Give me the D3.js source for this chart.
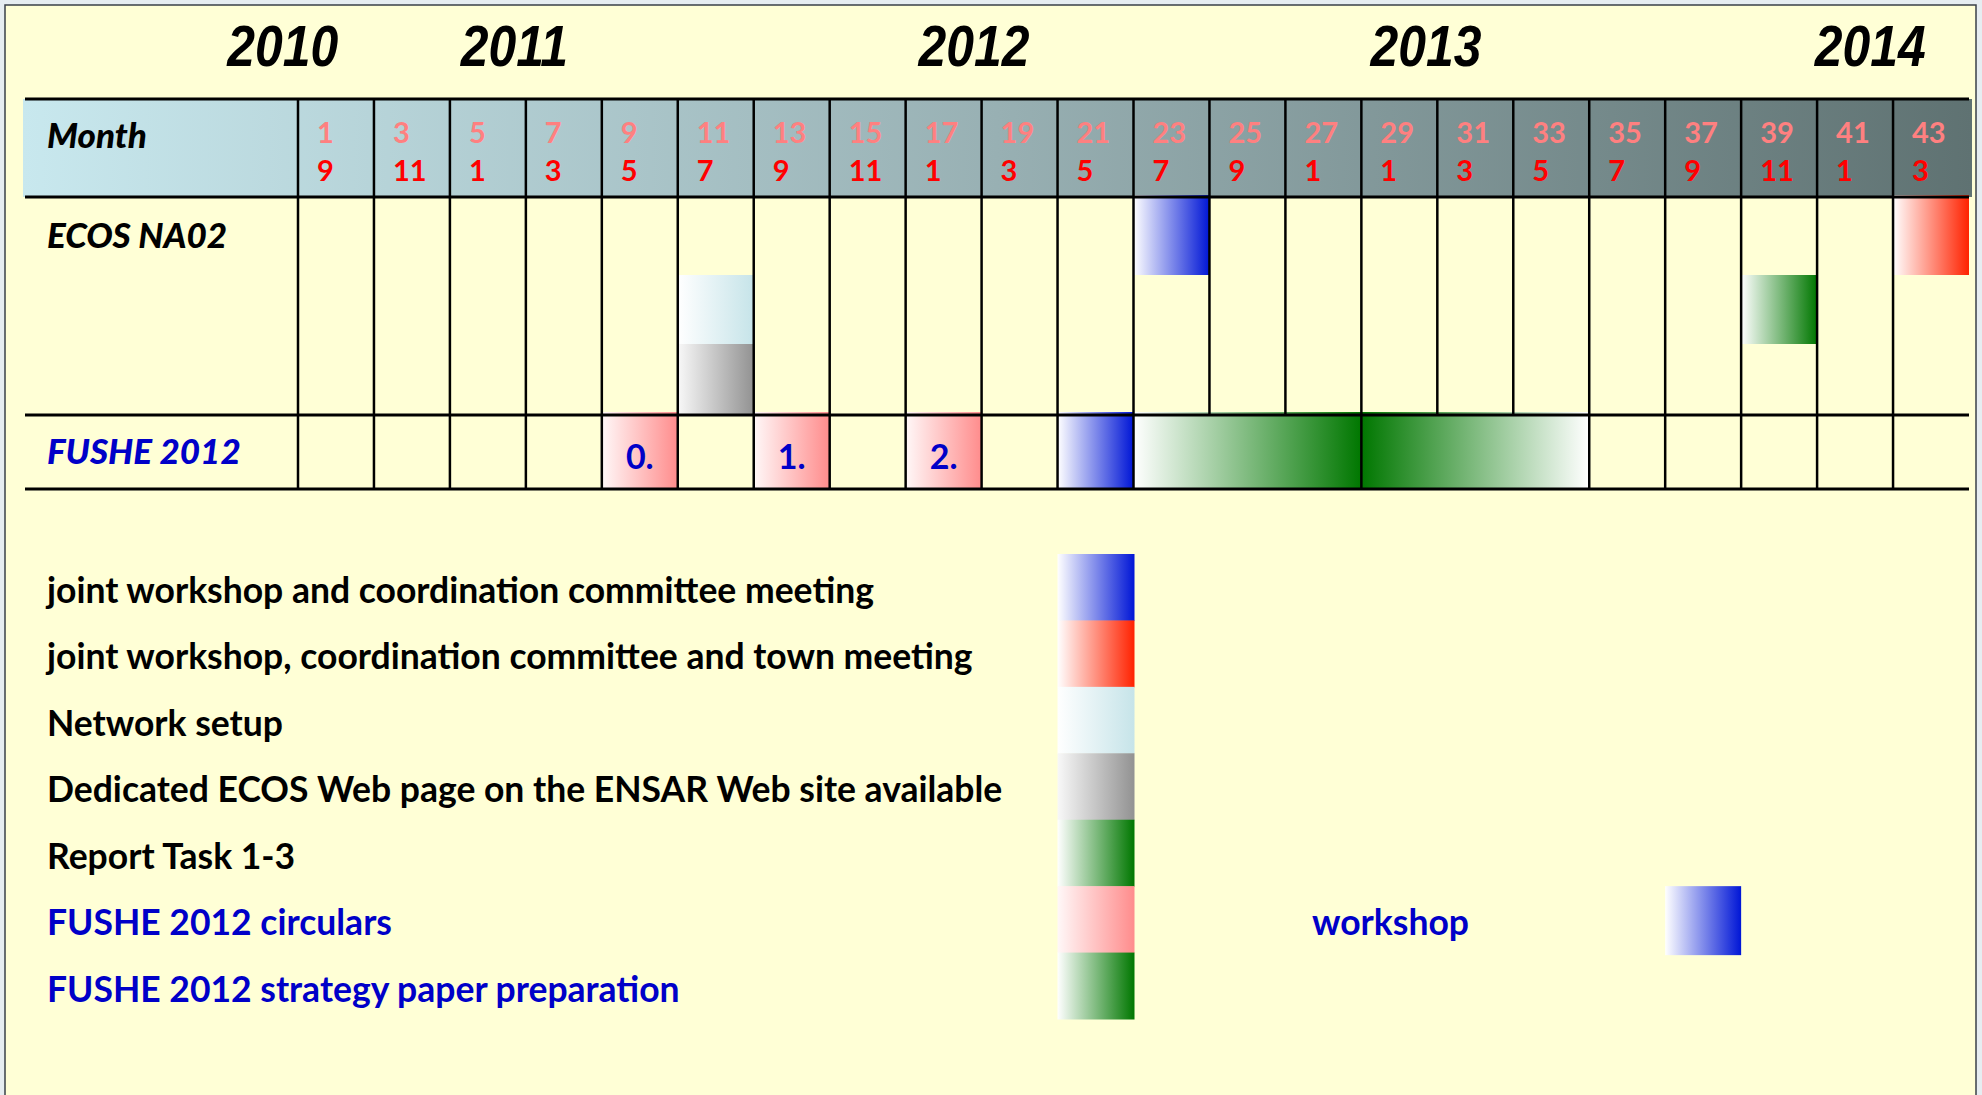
<html>

<head>
  <script src="https://d3js.org/d3.v7.min.js"></script>
  <style>
    body {
      margin: 0;
      background-color: #e6edf1;
    }

    svg {
      display: block;
    }

    text {
      font-family: Lato, "Open Sans", sans-serif;
      font-weight: bold;
    }
  </style>
</head>

<body>
  <div id="chart"></div>
</body>

<script>
  // header: project month (top row) and calendar month (bottom row)
  var projMonths = [1, 3, 5, 7, 9, 11, 13, 15, 17, 19, 21, 23, 25, 27, 29, 31, 33, 35, 37, 39, 41, 43];
  var calMonths = [9, 11, 1, 3, 5, 7, 9, 11, 1, 3, 5, 7, 9, 1, 1, 3, 5, 7, 9, 11, 1, 3];

  // year titles and where they sit on the project-month axis
  var years = ["2010", "2011", "2012", "2013", "2014"];
  var yearMonths = [-0.4, 5.7, 17.8, 29.7, 41.4];

  var rowNames = ["Month", "ECOS NA02", "FUSHE 2012"];

  // ECOS NA02 milestones: first/last project month, lane inside the row, kind
  var ecosBars = [
    { from: 11, to: 11, lane: 1, kind: "network" },
    { from: 11, to: 11, lane: 2, kind: "web" },
    { from: 23, to: 23, lane: 0, kind: "joint" },
    { from: 39, to: 39, lane: 1, kind: "report" },
    { from: 43, to: 43, lane: 0, kind: "town" }
  ];

  // FUSHE 2012 milestones
  var fusheBars = [
    { from: 9, to: 9, kind: "circular", label: "0." },
    { from: 13, to: 13, kind: "circular", label: "1." },
    { from: 17, to: 17, kind: "circular", label: "2." },
    { from: 21, to: 21, kind: "joint", label: "" },
    { from: 23, to: 27, kind: "strategy", label: "" },
    { from: 29, to: 33, kind: "strategyEnd", label: "" }
  ];

  var legendLabels = [
    "joint workshop and coordination committee meeting",
    "joint workshop, coordination committee and town meeting",
    "Network setup",
    "Dedicated ECOS Web page on the ENSAR Web site available",
    "Report Task 1-3",
    "FUSHE 2012 circulars",
    "FUSHE 2012 strategy paper preparation"
  ];
  var legendKinds = ["joint", "town", "network", "web", "report", "circular", "strategy"];
  var legendGroups = ["ECOS", "ECOS", "ECOS", "ECOS", "ECOS", "FUSHE", "FUSHE"];

  // gradient colours per kind (left -> right)
  var kindColors = {
    joint: ["#ffffff", "#0016d6"],
    town: ["#ffffff", "#ff2200"],
    network: ["#ffffff", "#c6e4e9"],
    web: ["#f8f8f8", "#929292"],
    report: ["#ffffff", "#007700"],
    circular: ["#fff8f8", "#ff8c8c"],
    strategy: ["#ffffff", "#007700"],
    strategyEnd: ["#007700", "#ffffff"]
  };

  var width = 1982, height = 1095;
  var blue = "#0000c8";

  var svg = d3.select("#chart").append("svg")
    .attr("width", width).attr("height", height);

  // panel
  svg.append("rect").attr("x", 5).attr("y", 5)
    .attr("width", 1971).attr("height", 1100)
    .style("fill", "#ffffd6").style("stroke", "#3a4048").style("stroke-width", 1.5);

  // x: project-month axis, each column holds two months
  var x = d3.scaleLinear().domain([0, 44]).range([298, 1969]);
  var colStart = function(m) { return x(m - 1); };
  var colEnd = function(m) { return x(m + 1); };

  var headTop = 99, headBottom = 197, ecosBottom = 415, fusheBottom = 489;
  // lanes inside the ECOS row (top lane a little taller)
  var lane = d3.scaleLinear().domain([0, 1, 2, 3]).range([headBottom, 275, 344, ecosBottom]);

  var defs = svg.append("defs");

  var headGrad = defs.append("linearGradient").attr("id", "headGrad")
    .attr("gradientUnits", "userSpaceOnUse")
    .attr("x1", 23).attr("x2", 1972).attr("y1", 0).attr("y2", 0);
  headGrad.append("stop").attr("offset", 0).attr("stop-color", "#c8e8ee");
  headGrad.append("stop").attr("offset", 0.5).attr("stop-color", "#98b0b3");
  headGrad.append("stop").attr("offset", 1).attr("stop-color", "#5f7272");

  Object.keys(kindColors).forEach(function(k) {
    var g = defs.append("linearGradient").attr("id", "g-" + k)
      .attr("x1", 0).attr("x2", 1).attr("y1", 0).attr("y2", 0);
    g.append("stop").attr("offset", 0).attr("stop-color", kindColors[k][0]);
    g.append("stop").attr("offset", 1).attr("stop-color", kindColors[k][1]);
  });

  // header band
  svg.append("rect").attr("x", 23).attr("y", headTop)
    .attr("width", 1972 - 23).attr("height", headBottom - headTop)
    .style("fill", "url(#headGrad)");

  // years
  svg.selectAll(".year").data(years).enter().append("text")
    .attr("class", "year")
    .attr("transform", function(d, i) { return "translate(" + x(yearMonths[i]) + ",66) scale(0.86,1)"; })
    .attr("text-anchor", "middle")
    .style("font-family", "'Liberation Sans', Arial, sans-serif")
    .style("font-style", "italic")
    .style("font-size", "58px")
    .style("fill", "black")
    .text(function(d) { return d; });

  // header numbers
  svg.selectAll(".proj").data(projMonths).enter().append("text")
    .attr("class", "proj")
    .attr("x", function(d) { return colStart(d) + 19; })
    .attr("y", 143)
    .style("font-size", "29px").style("fill", "#ff8080")
    .text(function(d) { return d; });

  svg.selectAll(".cal").data(calMonths).enter().append("text")
    .attr("class", "cal")
    .attr("x", function(d, i) { return colStart(projMonths[i]) + 19; })
    .attr("y", 181)
    .style("font-size", "29px").style("fill", "#ff0000")
    .text(function(d) { return d; });

  // row names
  svg.selectAll(".row").data(rowNames).enter().append("text")
    .attr("class", "row")
    .attr("x", 47)
    .attr("y", function(d, i) { return [148, 248, 464][i]; })
    .style("font-style", "italic")
    .style("font-size", "35px")
    .style("font-weight", 900)
    .style("fill", function(d, i) { return i == 2 ? blue : "black"; })
    .text(function(d) { return d; });

  // bars: ECOS row
  svg.selectAll(".ecos").data(ecosBars).enter().append("rect")
    .attr("class", "ecos")
    .attr("x", function(d) { return colStart(d.from); })
    .attr("y", function(d) { return lane(d.lane) - (d.lane == 0 ? 2 : 0); })
    .attr("width", function(d) { return colEnd(d.to) - colStart(d.from); })
    .attr("height", function(d) { return lane(d.lane + 1) - lane(d.lane) + (d.lane == 0 ? 2 : 0); })
    .style("fill", function(d) { return "url(#g-" + d.kind + ")"; });

  // bars: FUSHE row
  svg.selectAll(".fushe").data(fusheBars).enter().append("rect")
    .attr("class", "fushe")
    .attr("x", function(d) { return colStart(d.from); })
    .attr("y", ecosBottom - 3)
    .attr("width", function(d) { return colEnd(d.to) - colStart(d.from); })
    .attr("height", fusheBottom - ecosBottom + 3)
    .style("fill", function(d) { return "url(#g-" + d.kind + ")"; });

  svg.selectAll(".flabel").data(fusheBars).enter().append("text")
    .attr("class", "flabel")
    .attr("x", function(d) { return (colStart(d.from) + colEnd(d.to)) / 2; })
    .attr("y", 469)
    .attr("text-anchor", "middle")
    .style("font-size", "34px").style("fill", blue)
    .text(function(d) { return d.label; });

  // horizontal rules
  svg.selectAll(".hline").data([headTop, headBottom, ecosBottom, fusheBottom]).enter().append("line")
    .attr("class", "hline")
    .attr("x1", 25).attr("x2", 1969)
    .attr("y1", function(d) { return d; }).attr("y2", function(d) { return d; })
    .style("stroke", "black").style("stroke-width", 3);

  // vertical rules: column boundaries (hidden inside multi-column FUSHE bars)
  var bounds = d3.range(0, 44, 2);
  svg.selectAll(".vtop").data(bounds).enter().append("line")
    .attr("class", "vtop")
    .attr("x1", function(d) { return x(d); }).attr("x2", function(d) { return x(d); })
    .attr("y1", headTop).attr("y2", ecosBottom)
    .style("stroke", "black").style("stroke-width", 2.5);

  var fusheBounds = bounds.filter(function(b) {
    return !fusheBars.some(function(d) { return b > d.from - 1 && b < d.to + 1; });
  });
  svg.selectAll(".vbot").data(fusheBounds).enter().append("line")
    .attr("class", "vbot")
    .attr("x1", function(d) { return x(d); }).attr("x2", function(d) { return x(d); })
    .attr("y1", ecosBottom).attr("y2", fusheBottom)
    .style("stroke", "black").style("stroke-width", 2.5);

  // legend
  var legendY = d3.scaleBand().domain(d3.range(legendLabels.length)).range([554, 1019]);

  svg.selectAll(".legtext").data(legendLabels).enter().append("text")
    .attr("class", "legtext")
    .attr("x", 47)
    .attr("y", function(d, i) { return legendY(i) + 49; })
    .style("font-size", "35.5px")
    .style("fill", function(d, i) { return legendGroups[i] == "FUSHE" ? blue : "black"; })
    .text(function(d) { return d; });

  svg.selectAll(".legbox").data(legendKinds).enter().append("rect")
    .attr("class", "legbox")
    .attr("x", colStart(21))
    .attr("y", function(d, i) { return legendY(i); })
    .attr("width", colEnd(21) - colStart(21) + 1)
    .attr("height", legendY.bandwidth() + 0.5)
    .style("fill", function(d) { return "url(#g-" + d + ")"; });

  // extra key: FUSHE workshop
  svg.append("text")
    .attr("x", x(26.7)).attr("y", legendY(5) + 49)
    .style("font-size", "35.5px").style("fill", blue)
    .text("workshop");

  svg.append("rect")
    .attr("x", colStart(37)).attr("y", legendY(5))
    .attr("width", colEnd(37) - colStart(37)).attr("height", 69)
    .style("fill", "url(#g-joint)");
</script>

</html>
